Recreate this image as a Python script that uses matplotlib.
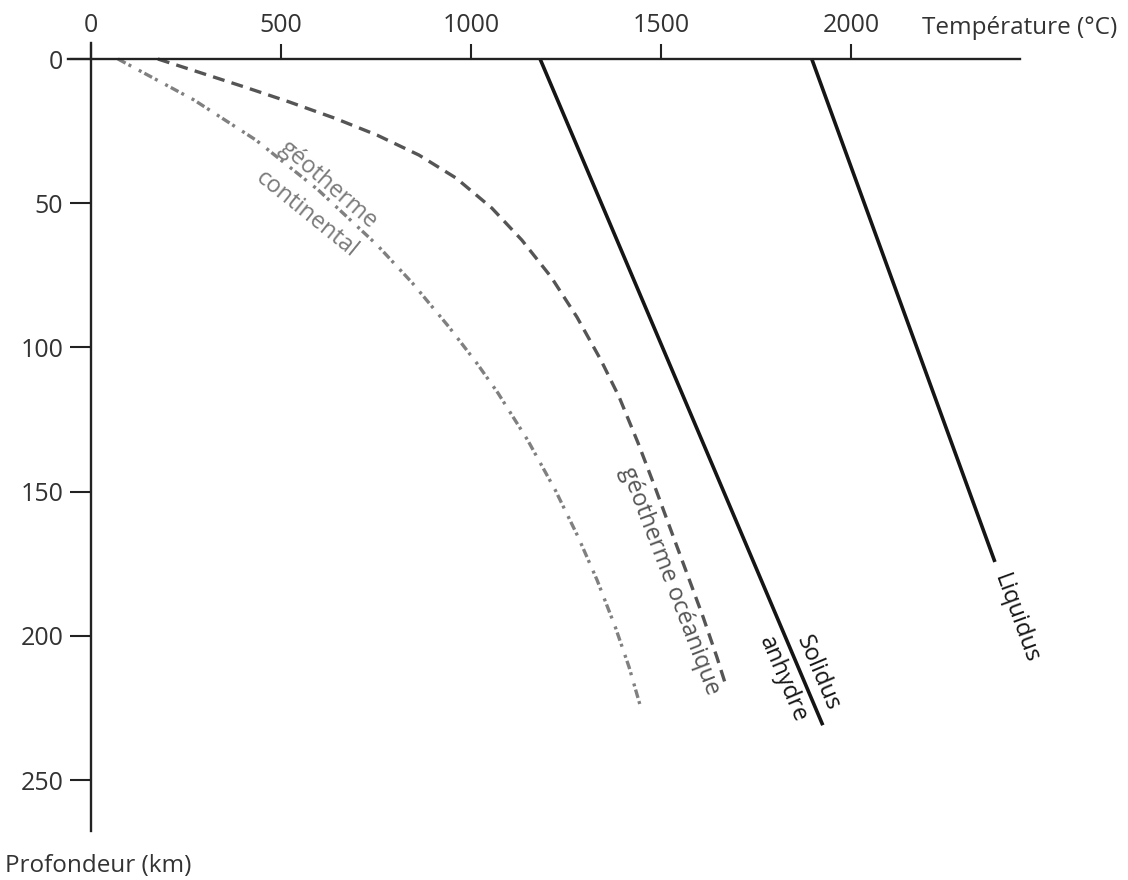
import matplotlib
matplotlib.use("Agg")
import matplotlib.pyplot as plt

plt.rcParams['font.family'] = ['Open Sans', 'DejaVu Sans']

# ---- data (temperature °C, depth km) ----
solidus_T = [1182, 1926]
solidus_d = [0, 231]

liquidus_T = [1897, 2379]
liquidus_d = [0, 174.4]

ocean_T = [176, 282, 404, 522, 641, 753, 863, 961, 1055, 1134, 1211, 1279, 1342,
           1390, 1440, 1487, 1526, 1568, 1611, 1647, 1668]
ocean_d = [0, 4.5, 9.7, 14.9, 20.5, 26.4, 33.3, 41.3, 51.7, 62.8, 75.6, 89.5, 104.4,
           117.2, 133.2, 149.4, 163.3, 178.2, 193.5, 207.3, 216.0]

cont_T = [71, 271, 434, 598, 753, 846, 942, 1015, 1071, 1149, 1222, 1282, 1332,
          1380, 1416, 1445]
cont_d = [0, 14.2, 28.1, 45.4, 64.5, 77.7, 92.9, 105.4, 115.8, 132.1, 149.5, 165.7,
          180.7, 197.0, 210.8, 224.0]

x_ticks = [0, 500, 1000, 1500, 2000]
y_ticks = [0, 50, 100, 150, 200, 250]

# ---- figure ----
W, H = 1128, 880
fig = plt.figure(figsize=(W / 100, H / 100), dpi=100)
left_px, right_px = 68.2, 1020.0
top_px, bot_px = 43.1, 831.0
ax = fig.add_axes([left_px / W, 1 - bot_px / H, (right_px - left_px) / W, (bot_px - top_px) / H])
ax.set_xlim(-60, 2445)
ax.set_ylim((bot_px - 59) / 2.884, -(59 - top_px) / 2.884)

axis_col = '#222222'
txt_col = '#333333'
for s in ['right', 'bottom']:
    ax.spines[s].set_visible(False)
ax.spines['left'].set_position(('data', 0))
ax.spines['top'].set_position(('data', 0))
for s in ['left', 'top']:
    ax.spines[s].set_linewidth(1.7)
    ax.spines[s].set_color(axis_col)

ax.xaxis.set_ticks_position('top')
ax.set_xticks(x_ticks)
ax.set_yticks(y_ticks)
ax.tick_params(axis='x', direction='out', length=11, width=1.5, color=axis_col,
               labelsize=18, labelcolor=txt_col, pad=4)
ax.tick_params(axis='y', direction='out', length=15, width=1.5, color=axis_col,
               labelsize=18, labelcolor=txt_col, pad=5)
ax.set_facecolor('white')

# curves
ax.plot(solidus_T, solidus_d, color='#151515', lw=2.6, solid_capstyle='butt')
ax.plot(liquidus_T, liquidus_d, color='#151515', lw=2.6, solid_capstyle='butt')
ax.plot(ocean_T, ocean_d, color='#555555', lw=2.4, linestyle=(0, (3.6, 2.2)))
ax.plot(cont_T, cont_d, color='#808080', lw=2.4,
        linestyle=(0, (2.6, 1.0, 0.9, 2.6, 0.9, 1.0)))

# labels
kw = dict(ha='center', va='center', rotation_mode='anchor', fontsize=17)
ax.text(624, 43.5, 'géotherme', rotation=-41, color='#7a7a7a', **kw)
ax.text(567, 53.8, 'continental', rotation=-39, color='#7a7a7a', **kw)
ax.text(1524, 181, 'géotherme océanique', rotation=-69, color='#555555', **kw)
ax.text(1913, 213, 'Solidus', rotation=-67, color='#151515', **kw)
ax.text(1821, 215, 'anhydre', rotation=-67, color='#151515', **kw)
ax.text(2435, 194, 'Liquidus', rotation=-70, color='#151515', **kw)

fig.text(1020 / W, 1 - 28 / H, 'Température (°C)', ha='center', va='center',
         fontsize=17.5, color=txt_col)
fig.text(98 / W, 1 - 866 / H, 'Profondeur (km)', ha='center', va='center',
         fontsize=17.5, color=txt_col)

fig.savefig('out.png', dpi=100, facecolor='white')
